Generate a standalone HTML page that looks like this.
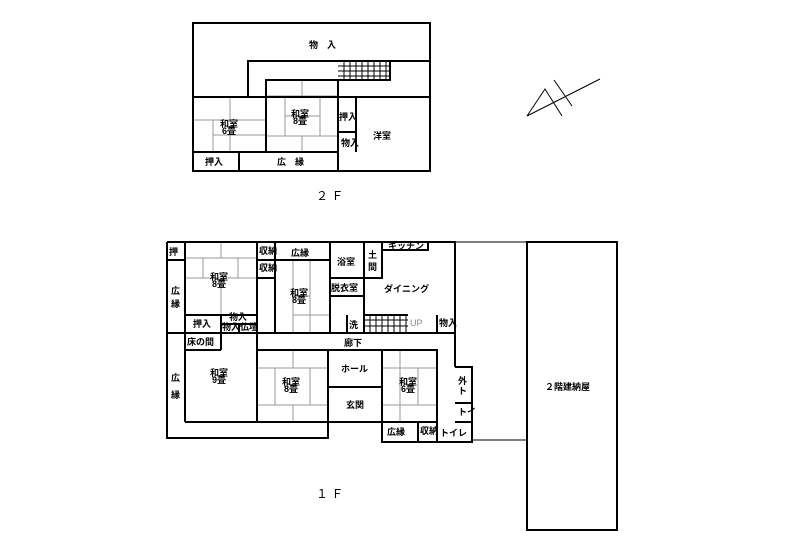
<!DOCTYPE html><html><head><meta charset="utf-8"><style>body{margin:0;background:#fff}svg{display:block}text{font-family:"Liberation Sans","Noto Sans CJK JP",sans-serif;font-weight:bold;font-size:9px;fill:#000}</style></head><body>
<svg width="785" height="556" viewBox="0 0 785 556">
<g stroke="#999" stroke-width="1" fill="none">
<path d="M230 98V120M193 120H266M213 120V152M213 135H266M230 135V152"/>
<path d="M302 80V96M266 96H338M285 96V136M320 96V136M285 116H320M266 136H338M302 136V152"/>
<path d="M221 242V258M185 258H257M203 258V278M238 258V278M203 278H238M185 278H257M221 278V315"/>
<path d="M293 260V278M293 278V333M310 278V315M293 296H310M310 260V333M293 315H330"/>
<path d="M293 350V368M257 368H328M275 368V405M310 368V405M257 405H328M293 405V422"/>
<path d="M400 350V368M382 368H437M400 368V405M418 368V405M382 405H437M400 405V422"/>
</g>
<g stroke="#000" stroke-width="2" fill="none">
<rect x="193" y="23" width="237" height="148"/>
<path d="M193 97H430M248 97V61H430M266 152V80H390V61M338 80V152M193 152H338M356 97V152M338 132H356M239 152V171M338 152V171"/>
<path d="M167 242H455V367M167 242V438H328V422M185 242V422M167 333H185"/>
<path d="M185 260H167M185 315H257M221 315V350M185 350H221M185 333H257V422H185M221 324H257M239 324V333"/>
<path d="M257 242V333M257 260H275M257 278H275M275 242V333M275 260H330M330 242V333M330 278H382V242M364 242V333M330 296H364M347 315V333H364M382 242V250H428V242"/>
<path d="M364 315H408M437 315V333M257 333H455M257 350H437V428M328 350V422M382 350V422M328 387H382M257 422H437M382 422V442H472V367H455M455 403H472M455 422H472M418 422V442M437 422V442"/>
<rect x="527" y="242" width="90" height="288"/>
</g>
<g stroke="#000" stroke-width="1" fill="none">
<path d="M338 66H390M338 71H390M338 76H390"/>
<path d="M344 62V80M350 62V80M356 62V80M362 62V80M368 62V80M374 62V80M380 62V80M386 62V80"/>
<path d="M364 320H408M364 326H408M370 315V333M376 315V333M382 315V333M388 315V333M394 315V333M400 315V333M406 315V333"/>
<path d="M455 242H527M472 440H527"/>
<path d="M527 116L600 79M527 116L545 89L562 116M554 80L572 106"/>
</g>
<text x="309" y="48">物　入</text>
<text x="220" y="127" font-size="8">和室</text><text x="222" y="134" font-size="8">6畳</text>
<text x="291" y="117" font-size="8">和室</text><text x="293" y="124" font-size="8">8畳</text>
<text x="339" y="120" font-size="8">押入</text><text x="341" y="146" font-size="4">物入</text>
<text x="373" y="139">洋室</text>
<text x="205" y="165">押入</text><text x="277" y="165">広　縁</text>
<text x="316" y="200" style="font-weight:normal;font-size:12px">２ Ｆ</text>
<text x="169" y="255" font-size="8">押</text>
<text x="171" y="294" font-size="8">広</text><text x="171" y="307" font-size="8">縁</text>
<text x="171" y="381" font-size="8">広</text><text x="171" y="398" font-size="8">縁</text>
<text x="210" y="280" font-size="8">和室</text><text x="212" y="287" font-size="8">8畳</text>
<text x="193" y="327">押入</text>
<text x="229" y="320" font-size="4">物入</text><text x="222" y="330" font-size="4">物入</text><text x="240" y="330" font-size="4">仏壇</text>
<text x="187" y="345" font-size="8">床の間</text>
<text x="210" y="376" font-size="8">和室</text><text x="212" y="383" font-size="8">9畳</text>
<text x="259" y="254" font-size="4">収納</text><text x="259" y="271" font-size="4">収納</text>
<text x="291" y="256" font-size="8">広縁</text>
<text x="290" y="296" font-size="8">和室</text><text x="292" y="303" font-size="8">8畳</text>
<text x="337" y="265" font-size="8">浴室</text>
<text x="368" y="258" font-size="8">土</text><text x="368" y="270" font-size="8">間</text>
<text x="331" y="291" font-size="8">脱衣室</text>
<text x="349" y="328" font-size="8">洗</text>
<text x="388" y="249" font-size="4">キッチン</text>
<text x="384" y="292" font-size="8">ダイニング</text>
<text x="410" y="326" font-size="4" style="font-weight:normal;fill:#888">UP</text>
<text x="439" y="326" font-size="4">物入</text>
<text x="344" y="346" font-size="8">廊下</text>
<text x="341" y="372" font-size="8">ホール</text>
<text x="346" y="408" font-size="8">玄関</text>
<text x="282" y="385" font-size="8">和室</text><text x="284" y="392" font-size="8">8畳</text>
<text x="399" y="385" font-size="8">和室</text><text x="401" y="392" font-size="8">6畳</text>
<text x="458" y="384" font-size="8">外</text><text x="458" y="394" font-size="8">ト</text>
<text x="458" y="415" font-size="4">トイ</text>
<text x="387" y="435" font-size="8">広縁</text><text x="420" y="434" font-size="4">収納</text>
<text x="440" y="436" font-size="8">トイレ</text>
<text x="545" y="390" font-size="8">２階建納屋</text>
<text x="316" y="498" style="font-weight:normal;font-size:12px">１ Ｆ</text>
</svg></body></html>
